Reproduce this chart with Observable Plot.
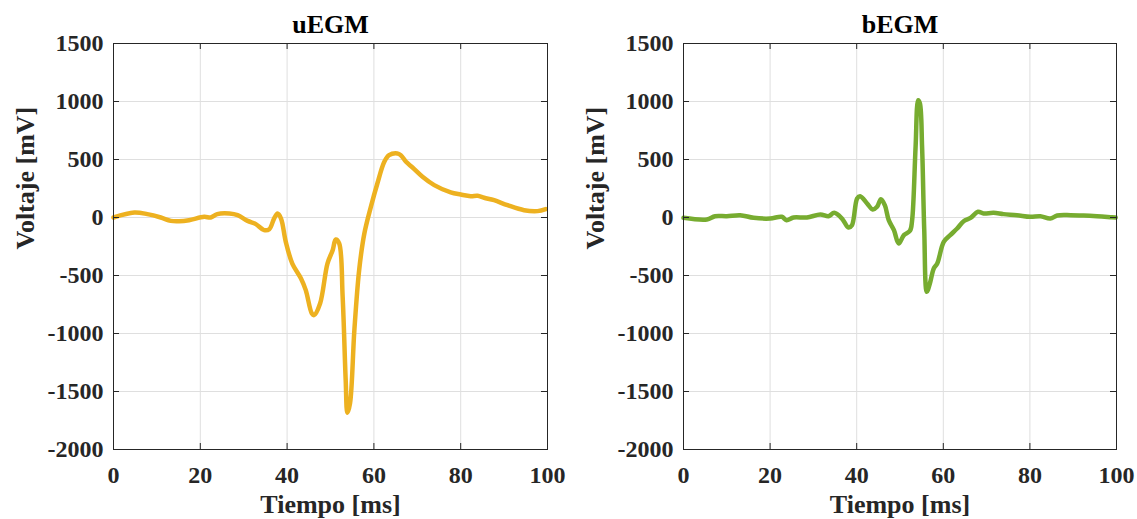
<!DOCTYPE html>
<html>
<head>
<meta charset="utf-8">
<script src="https://cdn.jsdelivr.net/npm/d3@7"></script>
<script src="https://cdn.jsdelivr.net/npm/@observablehq/plot@0.6"></script>
<style>
  html, body { margin: 0; padding: 0; background: #fff; }
  #wrap { display: flex; width: 1137px; height: 519px; }
  svg { font-family: "Liberation Serif", "Times New Roman", serif; }
</style>
</head>
<body>
<div id="wrap"></div>
<script>
// uEGM (unipolar) samples: time [ms], voltage [mV]
const uTime = [0,4.8,7.8,10.9,13.2,15.1,17.4,20.9,22.4,23.9,26.7,28.6,30.9,32.8,34.7,35.9,37.0,37.8,38.6,39.7,41.2,43.2,44.3,45.7,46.2,47.6,49.3,50.5,51.2,52.0,52.8,53.5,53.9,54.5,55.5,56.6,57.8,59.3,60.8,62.4,63.5,65.4,66.2,67.4,68.9,71.2,73.9,77.7,80.0,82.3,83.9,85.4,87.7,90.8,94.6,97.7,99.6];
const uVolt = [0,43,29,0,-29,-32,-23,6,0,29,34,20,-29,-57,-109,-101,-9,34,-9,-210,-397,-526,-626,-828,-842,-741,-397,-282,-190,-224,-684,-1402,-1684,-1603,-971,-454,-138,92,293,480,537,552,537,480,431,351,279,216,198,184,187,170,149,106,63,55,72];

// bEGM (bipolar) samples
const bTime = [0,5.4,7.3,10.0,13.1,16.2,20.0,22.7,23.8,25.4,28.5,31.6,33.5,34.8,36.6,38.1,38.9,40.1,40.8,42.4,43.7,44.7,45.6,46.5,47.4,48.6,49.7,50.9,52.3,52.8,53.6,54.2,54.6,55.1,55.6,56.2,56.9,57.8,58.6,60.1,61.6,63.2,64.7,66.3,68.0,69.3,71.6,73.9,77.0,80.1,82.4,84.7,86.3,89.4,92.4,95.5,98.6,99.8];
const bVolt = [-3,-17,11,11,20,-3,-9,6,-23,0,0,26,11,40,-9,-86,-66,164,184,121,69,92,158,106,-23,-109,-224,-152,-115,-23,609,1011,983,609,-109,-641,-569,-440,-397,-210,-152,-95,-32,-3,49,34,40,29,20,6,11,-9,17,20,17,11,3,0];

const xTicks = [0,20,40,60,80,100];
const yTicks = [-2000,-1500,-1000,-500,0,500,1000,1500];
const titles = ["uEGM", "bEGM"];
const colors = ["#EDB120", "#77AC30"];
const xLabel = "Tiempo [ms]";
const yLabel = "Voltaje [mV]";

function panel(title, times, volts, color, width, marginLeft) {
  const height = 519, marginTop = 43, marginBottom = 70, marginRight = 21;
  const pw = width - marginLeft - marginRight;
  const ph = height - marginTop - marginBottom;
  const data = times.map((t, i) => ({t, v: volts[i]}));
  const axisColor = "#262626";
  const tl = 6;
  return Plot.plot({
    width, height, marginTop, marginBottom, marginLeft, marginRight,
    style: {fontFamily: '"Liberation Serif", "Times New Roman", serif', background: "#fff", overflow: "visible"},
    x: {domain: [0, 100], axis: null},
    y: {domain: [-2000, 1500], axis: null},
    marks: [
      Plot.gridX(xTicks, {stroke: "#dfdfdf", strokeOpacity: 1}),
      Plot.gridY(yTicks, {stroke: "#dfdfdf", strokeOpacity: 1}),
      Plot.line(data, {x: "t", y: "v", stroke: color, strokeWidth: 4.5, curve: "catmull-rom", strokeLinejoin: "round", strokeLinecap: "round"}),
      // inward ticks on all four sides
      Plot.tickY(yTicks, {y: d => d, insetRight: pw - tl, stroke: axisColor}),
      Plot.tickY(yTicks, {y: d => d, insetLeft: pw - tl, stroke: axisColor}),
      Plot.tickX(xTicks, {x: d => d, insetTop: ph - tl, stroke: axisColor}),
      Plot.tickX(xTicks, {x: d => d, insetBottom: ph - tl, stroke: axisColor}),
      Plot.frame({stroke: axisColor, strokeWidth: 1}),
      // tick labels
      Plot.text(yTicks, {y: d => d, text: d => String(d), frameAnchor: "left", textAnchor: "end", dx: -10, lineAnchor: "middle",
        fontSize: 24, fontWeight: "bold", fill: "#262626"}),
      Plot.text(xTicks, {x: d => d, text: d => String(d), frameAnchor: "bottom", lineAnchor: "top", dy: 16,
        fontSize: 24, fontWeight: "bold", fill: "#262626"}),
      // axis labels and title
      Plot.text([yLabel], {frameAnchor: "left", rotate: -90, dx: -88, dy: 3, lineAnchor: "middle", fontSize: 26, fontWeight: "bold", fill: "#262626"}),
      Plot.text([xLabel], {frameAnchor: "bottom", dy: 55, lineAnchor: "middle", fontSize: 26, fontWeight: "bold", fill: "#262626"}),
      Plot.text([title], {frameAnchor: "top", dy: -19, lineAnchor: "middle", fontSize: 26, fontWeight: "bold", fill: "#000"})
    ]
  });
}

const wrap = document.getElementById("wrap");
wrap.appendChild(panel(titles[0], uTime, uVolt, colors[0], 568, 113));
wrap.appendChild(panel(titles[1], bTime, bVolt, colors[1], 569, 115));
</script>
</body>
</html>
